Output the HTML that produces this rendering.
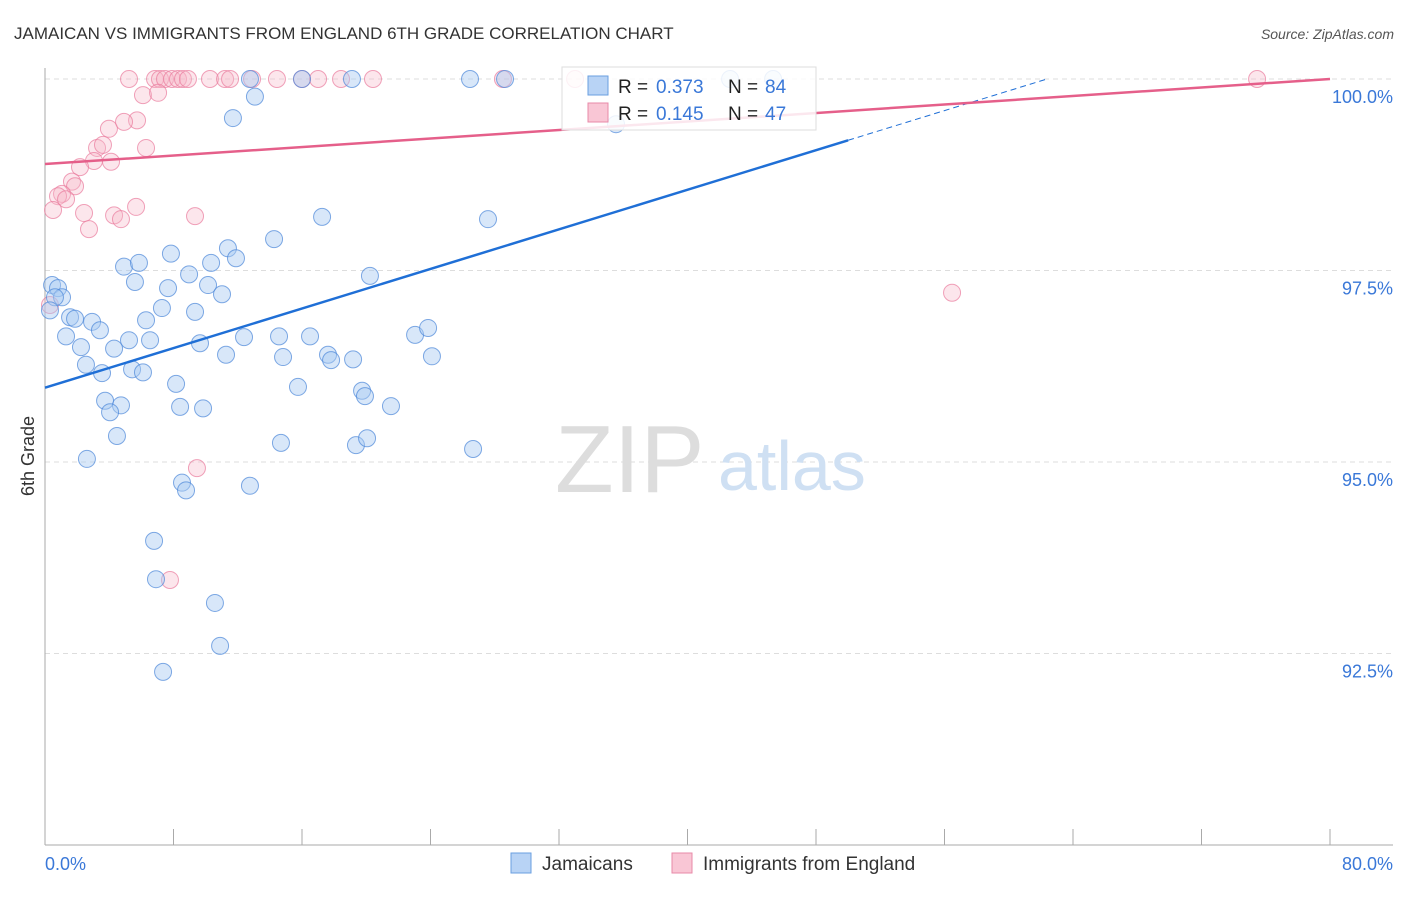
<!DOCTYPE html>
<html><head><meta charset="utf-8"><style>
body{margin:0;background:#fff;font-family:"Liberation Sans",sans-serif}
svg text{font-family:"Liberation Sans",sans-serif}
</style></head><body>
<svg id="c" width="1406" height="892">
<text x="14" y="39" font-size="17" fill="#333">JAMAICAN VS IMMIGRANTS FROM ENGLAND 6TH GRADE CORRELATION CHART</text>
<text x="1394" y="39" font-size="14" fill="#555" text-anchor="end" font-style="italic">Source: ZipAtlas.com</text>
<g id="grid"></g>
<g>
<text x="555" y="492" font-size="96" font-family="Liberation Serif,serif" fill="#ddd">ZIP</text>
<text x="718" y="490" font-size="70" fill="#cfe0f3">atlas</text>
</g>
<text transform="translate(34,456) rotate(-90)" font-size="18" fill="#333" text-anchor="middle">6th Grade</text>
<g id="pts"></g>
<g id="lines"></g>
<g>
<rect x="562" y="67" width="254" height="63" fill="#fff" fill-opacity="0.85" stroke="#ddd"/>
<rect x="588" y="76" width="20" height="19" fill="#b8d3f5" stroke="#6a9fe0"/>
<text x="618" y="93" font-size="19" fill="#222">R =</text>
<text x="656" y="93" font-size="19" fill="#3a78d8">0.373</text>
<text x="728" y="93" font-size="19" fill="#222">N =</text>
<text x="765" y="93" font-size="19" fill="#3a78d8">84</text>
<rect x="588" y="103" width="20" height="19" fill="#f9c6d5" stroke="#e88aa8"/>
<text x="618" y="120" font-size="19" fill="#222">R =</text>
<text x="656" y="120" font-size="19" fill="#3a78d8">0.145</text>
<text x="728" y="120" font-size="19" fill="#222">N =</text>
<text x="765" y="120" font-size="19" fill="#3a78d8">47</text>
</g>
<g>
<rect x="511" y="853" width="20" height="20" fill="#b8d3f5" stroke="#6a9fe0"/>
<text x="542" y="870" font-size="19" fill="#333">Jamaicans</text>
<rect x="672" y="853" width="20" height="20" fill="#f9c6d5" stroke="#e88aa8"/>
<text x="703" y="870" font-size="19" fill="#333">Immigrants from England</text>
</g>
</svg>
<script>
const blueX=[26.46,28.64,19.11,16.00,12.76,42.65,45.33,13.07,11.70,35.55,27.58,17.25,14.26,11.39,7.84,11.89,10.34,4.92,5.85,8.97,5.60,20.23,7.66,10.15,11.02,0.44,0.81,1.06,0.62,7.28,9.34,6.29,2.93,1.56,1.87,3.42,23.04,23.85,12.39,14.57,16.50,1.31,5.23,6.54,9.65,2.24,4.30,11.27,14.82,17.62,17.81,19.18,24.09,2.55,3.55,5.42,6.10,8.16,15.75,19.74,19.92,3.74,4.73,8.41,9.84,21.54,4.05,4.48,14.69,19.36,20.05,26.65,2.61,8.53,8.78,12.76,6.79,6.91,10.58,10.90,7.35,0.31];
const blueY=[100,100,100,100,100,100,100,99.77,99.49,99.41,98.17,98.20,97.91,97.79,97.72,97.66,97.60,97.55,97.60,97.45,97.35,97.43,97.27,97.31,97.19,97.31,97.27,97.15,97.15,97.01,96.96,96.85,96.83,96.89,96.87,96.72,96.66,96.75,96.63,96.64,96.64,96.64,96.59,96.59,96.55,96.50,96.48,96.40,96.37,96.40,96.33,96.34,96.38,96.27,96.16,96.21,96.17,96.02,95.98,95.93,95.86,95.80,95.74,95.72,95.70,95.73,95.65,95.34,95.25,95.22,95.31,95.17,95.04,94.73,94.63,94.69,93.97,93.47,93.16,92.60,92.26,96.98];
const pinkX=[5.23,6.85,7.16,7.47,7.91,8.28,8.59,8.90,10.27,11.21,11.52,12.89,14.44,16.00,17.00,18.43,20.42,33.00,28.51,75.46,6.10,7.04,3.98,5.73,4.92,3.24,3.61,6.29,4.11,3.05,2.18,1.68,1.87,1.06,0.81,1.31,0.50,2.43,5.67,4.30,4.73,2.74,9.34,56.47,9.46,7.78,0.31];
const pinkY=[100,100,100,100,100,100,100,100,100,100,100,100,100,100,100,100,100,100,100,100,99.79,99.82,99.35,99.46,99.44,99.10,99.14,99.10,98.92,98.93,98.85,98.66,98.60,98.50,98.47,98.43,98.29,98.25,98.33,98.22,98.17,98.04,98.21,97.21,94.92,93.46,97.05];
const yTicks=[100,97.5,95,92.5];
const yTickLabels=["100.0%","97.5%","95.0%","92.5%"];
const blueTrend=[0,95.97,50,99.20];
const pinkTrend=[0,98.89,80,100.0];
const X=v=>45+v/80*1285, Y=v=>79+(100-v)*76.6;
const NS="http://www.w3.org/2000/svg";
function mk(t,a,p){const e=document.createElementNS(NS,t);for(const k in a)e.setAttribute(k,a[k]);p.appendChild(e);return e;}
const g=document.getElementById('grid');
yTicks.forEach((v,i)=>{
 const l=mk('line',{x1:45,x2:1393,y1:Y(v),y2:Y(v),stroke:'#ddd','stroke-dasharray':'5,4'},g);
 
 
 const t=mk('text',{x:1393,y:Y(v)+24,'font-size':18,fill:'#3a78d8','text-anchor':'end'},g);t.textContent=yTickLabels[i];
 
 
});
const ax=mk('line',{x1:45,x2:1393,y1:845,y2:845,stroke:'#aaa'},g);


const ay=mk('line',{x1:45,x2:45,y1:68,y2:845,stroke:'#aaa'},g);


for(let i=0;i<=10;i++){const t=mk('line',{x1:X(i*8),x2:X(i*8),y1:829,y2:845,stroke:'#aaa'},g);
 
 }
const xl=[["0.0%",45,"start"],["80.0%",1393,"end"]];
xl.forEach(a=>{const t=mk('text',{x:a[1],y:870,'font-size':18,fill:'#3a78d8','text-anchor':a[2]},g);t.textContent=a[0];
 
 });
const P=document.getElementById('pts');
pinkX.forEach((x,i)=>{const c=mk('circle',{cx:X(x),cy:Y(pinkY[i]),r:8.5,fill:'#f7b6c9','fill-opacity':0.35,stroke:'#e97a9c','stroke-opacity':0.7},P);
 
 });
blueX.forEach((x,i)=>{const c=mk('circle',{cx:X(x),cy:Y(blueY[i]),r:8.5,fill:'#a9c9f1','fill-opacity':0.45,stroke:'#4a86d8','stroke-opacity':0.7},P);
 
 });
const L=document.getElementById('lines');
const bs=(blueTrend[3]-blueTrend[1])/(blueTrend[2]-blueTrend[0]);
const bl=mk('line',{x1:X(0),y1:Y(blueTrend[1]),x2:X(blueTrend[2]),y2:Y(blueTrend[3]),stroke:'#1f6fd6','stroke-width':2.5},L);


const xe=blueTrend[2]+(100-blueTrend[3])/bs;
const bd=mk('line',{x1:X(blueTrend[2]),y1:Y(blueTrend[3]),x2:X(xe),y2:Y(100),stroke:'#1f6fd6','stroke-width':1,'stroke-dasharray':'6,4'},L);


const pl=mk('line',{x1:X(pinkTrend[0]),y1:Y(pinkTrend[1]),x2:X(pinkTrend[2]),y2:Y(pinkTrend[3]),stroke:'#e55f8a','stroke-width':2.5},L);


</script>
</body></html>
